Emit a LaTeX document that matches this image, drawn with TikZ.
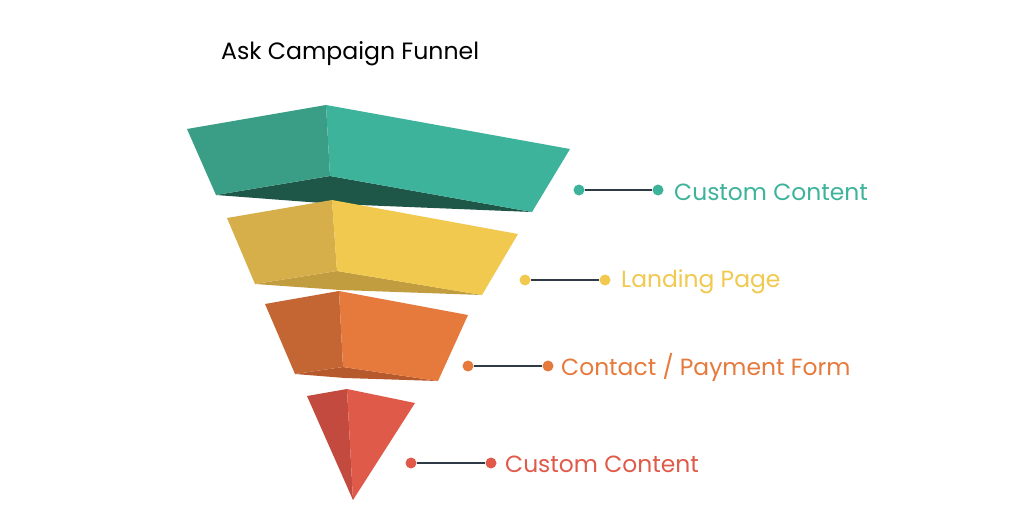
\documentclass[tikz,border=0pt]{standalone}
\usepackage{fontspec}
\setmainfont{Poppins}
\definecolor{tealL}{HTML}{3A9E86}
\definecolor{tealR}{HTML}{3DB39B}
\definecolor{tealB}{HTML}{1E5648}
\definecolor{yelL}{HTML}{D6AF4A}
\definecolor{yelR}{HTML}{F0C94E}
\definecolor{yelB}{HTML}{C19D40}
\definecolor{orL}{HTML}{C46634}
\definecolor{orR}{HTML}{E67A3C}
\definecolor{orB}{HTML}{B65A2E}
\definecolor{redL}{HTML}{C24A3E}
\definecolor{redR}{HTML}{E05A4A}
\definecolor{lineC}{HTML}{2E3A46}
\tikzset{
  dotnode/.style={circle,fill=#1,minimum size=11pt,inner sep=0pt},
  conn/.style={draw=lineC,line width=1.8pt},
  lbl/.style={anchor=west,inner sep=0pt,text=#1,font=\fontsize{23.4}{28}\selectfont},
}
\begin{document}
\begin{tikzpicture}[x=1pt,y=-1pt]
\useasboundingbox[fill=white] (0,0) rectangle (1024,513);
\node[anchor=west,inner sep=0pt,font=\fontsize{23.6}{28}\selectfont] (title) at (221,54) {Ask Campaign Funnel};
% teal
\fill[tealB] (216,195) -- (330,176) -- (532,212) -- (335,204) -- cycle;
\fill[tealL] (187,129) -- (326,105) -- (330,176) -- (216,195) -- cycle;
\fill[tealR] (326,105) -- (570,149) -- (532,212) -- (330,176) -- cycle;
% yellow
\fill[yelB] (255,284) -- (337,271) -- (482,295) -- (340,290) -- cycle;
\fill[yelL] (227,218) -- (332,200) -- (337,271) -- (255,284) -- cycle;
\fill[yelR] (332,200) -- (518,234) -- (482,295) -- (337,271) -- cycle;
% orange
\fill[orB] (295,374) -- (343,367) -- (438,381) -- (345,378) -- cycle;
\fill[orL] (265,304) -- (339,291) -- (343,367) -- (295,374) -- cycle;
\fill[orR] (339,291) -- (468,315) -- (438,381) -- (343,367) -- cycle;
% red
\fill[redL] (307,396) -- (347,389) -- (353,500) -- cycle;
\fill[redR] (347,389) -- (415,403) -- (353,500) -- cycle;
% connectors
\node[dotnode=tealR] (a1) at (579,190) {};
\node[dotnode=tealR] (b1) at (658,190) {};
\node[lbl=tealR] (t1) at (674,192) {Custom Content};
\node[dotnode=yelR] (a2) at (525,280) {};
\node[dotnode=yelR] (b2) at (605,280) {};
\node[lbl=yelR] (t2) at (621,282) {Landing Page};
\node[dotnode=orR] (a3) at (468,366) {};
\node[dotnode=orR] (b3) at (548,366) {};
\node[lbl=orR] (t3) at (561,367) {Contact / Payment Form};
\node[dotnode=redR] (a4) at (411,463) {};
\node[dotnode=redR] (b4) at (491,463) {};
\node[lbl=redR] (t4) at (505,464) {Custom Content};
\foreach \i in {1,2,3,4} {\draw[conn] (a\i) -- (b\i);}
\end{tikzpicture}
\end{document}
